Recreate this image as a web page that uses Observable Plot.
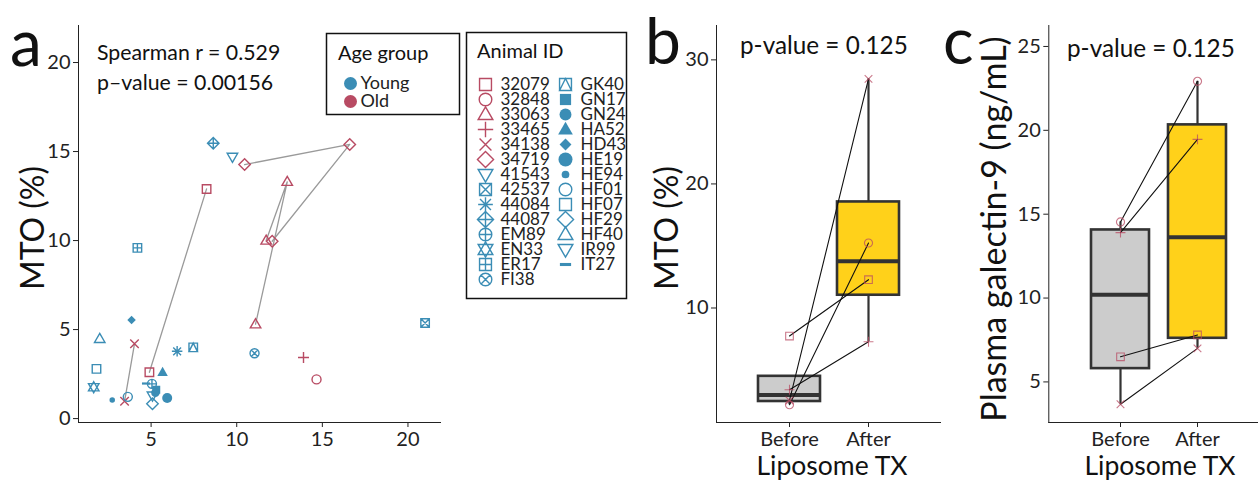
<!DOCTYPE html>
<html><head><meta charset="utf-8">
<script src="https://cdn.jsdelivr.net/npm/d3@7"></script>
<script src="https://cdn.jsdelivr.net/npm/@observablehq/plot@0.6"></script>
<style>
html,body{margin:0;padding:0;background:#fff;overflow:hidden;}
#root{position:relative;width:1258px;height:483px;overflow:hidden;font-family:Lato,sans-serif;background:#fff;}
#root > svg{position:absolute;overflow:visible;}
</style></head><body><div id="root"></div>
<script>
// ---------------- DATA ----------------
const animalIds = ["32079","32848","33063","33465","34138","34719","41543","42537","44084","44087","EM89","EN33","ER17","FI38",
                   "GK40","GN17","GN24","HA52","HD43","HE19","HE94","HF01","HF07","HF29","HF40","IR99","IT27"];
const animalShapes = ["square","circle","triangle","plus","cross","diamond","triangleDown","squareCross","asterisk","diamondPlus","circlePlus","star","squarePlus","circleCross",
                      "squareTriangle","squareFilled","circleFilled","triangleFilled","diamondFilled","circleFilledLarge","circleFilledSmall","circle","square","diamond","triangle","triangleDown","dash"];
const oldAnimals = ["32079","32848","33063","33465","34138","34719"];
const ageGroups = ["Young","Old"];

// panel a: scatter (in path order per animal)
const scatterId = ["32079","32079","32848","33063","33063","33063","33465","34138","34138","34719","34719","34719",
                   "41543","42537","44084","44087","EM89","EN33","ER17","FI38","GK40","GN17","GN24","HA52","HD43","HE19","HE94","HF01","HF07","HF29","HF40","IR99","IT27"];
const scatterX = [4.9,8.24,14.66,11.1,12.95,11.72,13.9,3.45,4.03,10.46,16.6,12.07,
                  9.75,21.0,6.52,8.63,5.05,1.65,4.2,11.04,7.46,5.3,5.25,5.67,3.86,5.94,2.73,3.64,1.81,5.08,2.0,5.08,4.7];
const scatterY = [2.6,12.9,2.2,5.3,13.3,10.0,3.43,0.97,4.2,14.27,15.4,9.96,
                  14.7,5.37,3.78,15.47,1.95,1.76,9.59,3.67,4.0,1.62,1.45,2.6,5.54,1.16,1.05,1.22,2.79,0.83,4.48,1.29,1.97];
const aXTicks = [5,10,15,20];
const aYTicks = [0,5,10,15,20];

// panels b, c: liposome treatment
const phases = ["Before","After"];
const txAnimals = ["32079","32848","33465","34138"];
const mtoBefore = [7.74,2.2,3.41,2.55];
const mtoAfter  = [12.28,15.24,7.28,28.47];
const galBefore = [6.5,14.54,13.9,3.67];
const galAfter  = [7.8,22.92,19.46,7.0];
const bYTicks = [10,20,30];
const cYTicks = [5,10,15,20,25];

// ---------------- STYLE ----------------
const BLUE = "#3b8db5", RED = "#b84b63";
const FONT = "Lato, sans-serif";
const boxFill = {Before: "#cccccc", After: "#ffd11a"};

// ---------------- SYMBOLS ----------------
const poly = (c, p) => { c.moveTo(p[0][0], p[0][1]); for (let i = 1; i < p.length; i++) c.lineTo(p[i][0], p[i][1]); c.closePath(); };
const circ = (c, r) => { c.moveTo(r, 0); c.arc(0, 0, r, 0, 2 * Math.PI); c.closePath(); };
const seg = (c, a, b, d, e) => { c.moveTo(a, b); c.lineTo(d, e); };
const sq = (c, h) => poly(c, [[-h,-h],[h,-h],[h,h],[-h,h]]);
const triU = (c, s) => poly(c, [[0,-1.1*s],[1.05*s,0.72*s],[-1.05*s,0.72*s]]);
const triD = (c, s) => poly(c, [[0,1.1*s],[1.05*s,-0.72*s],[-1.05*s,-0.72*s]]);
const dia = (c, h) => poly(c, [[0,-h],[h,0],[0,h],[-h,0]]);
const plus = (c, h) => { seg(c,-h,0,h,0); seg(c,0,-h,0,h); };
const crs = (c, h) => { seg(c,-h,-h,h,h); seg(c,-h,h,h,-h); };
const shapeFns = {
  square: (c,s) => sq(c,.85*s),
  circle: (c,s) => circ(c,.9*s),
  triangle: triU,
  plus: (c,s) => plus(c,1.1*s),
  cross: (c,s) => crs(c,.85*s),
  diamond: (c,s) => dia(c,1.15*s),
  triangleDown: triD,
  squareCross: (c,s) => { sq(c,.85*s); crs(c,.85*s); },
  asterisk: (c,s) => { plus(c,1.05*s); crs(c,.78*s); },
  diamondPlus: (c,s) => { dia(c,1.15*s); plus(c,1.15*s); },
  circlePlus: (c,s) => { circ(c,.9*s); plus(c,.9*s); },
  star: (c,s) => { triU(c,s); triD(c,s); },
  squarePlus: (c,s) => { sq(c,.85*s); plus(c,.85*s); },
  circleCross: (c,s) => { circ(c,.9*s); crs(c,.636*s); },
  squareTriangle: (c,s) => { sq(c,.85*s); poly(c, [[0,-.85*s],[.85*s,.85*s],[-.85*s,.85*s]]); },
  squareFilled: (c,s) => sq(c,.8*s),
  circleFilled: (c,s) => circ(c,.85*s),
  triangleFilled: triU,
  diamondFilled: (c,s) => dia(c,.85*s),
  circleFilledLarge: (c,s) => circ(c,1.0*s),
  circleFilledSmall: (c,s) => circ(c,.55*s),
  dash: (c,s) => poly(c, [[-.8*s,-.22*s],[.8*s,-.22*s],[.8*s,.22*s],[-.8*s,.22*s]])
};
const filledShapes = new Set(["squareFilled","circleFilled","triangleFilled","diamondFilled","circleFilledLarge","circleFilledSmall","dash"]);
const makeSym = fn => ({draw(ctx, size) { fn(ctx, Math.sqrt(size / Math.PI)); }});
const shapeOf = Object.fromEntries(animalIds.map((id, i) => [id, animalShapes[i]]));
const symbolScale = {domain: animalIds, range: animalIds.map(id => makeSym(shapeFns[shapeOf[id]]))};
const colorScale = {domain: ageGroups, range: [BLUE, RED]};
const ageOf = id => oldAnimals.includes(id) ? "Old" : "Young";
const isFilled = id => filledShapes.has(shapeOf[id]);

const root = document.getElementById("root");
function place(svg, left, top) { svg.style.left = left + "px"; svg.style.top = top + "px"; root.appendChild(svg); }
const baseStyle = {fontFamily: FONT, fontSize: "19px", color: "#222", background: "transparent", overflow: "visible"};

// ---------------- PANEL A ----------------
const scat = scatterId.map((id, i) => ({id, x: scatterX[i], y: scatterY[i], group: ageOf(id), filled: isFilled(id)}));
const counts = d3.rollup(scat, v => v.length, d => d.id);
const pa = Plot.plot({
  width: 460, height: 483, marginLeft: 78, marginTop: 25, marginRight: 20, marginBottom: 61,
  x: {domain: [0.76, 21.9], ticks: aXTicks, tickSize: 5, tickPadding: 4, line: true, label: null},
  y: {domain: [-0.22, 22.08], ticks: aYTicks, tickSize: 5, tickPadding: 3, line: true, label: null},
  symbol: symbolScale, color: colorScale,
  style: {...baseStyle, fontSize: "20px"},
  marks: [
    Plot.line(scat.filter(d => counts.get(d.id) > 1), {x: "x", y: "y", z: "id", stroke: "#9a9a9a", strokeWidth: 1.3}),
    Plot.dot(scat.filter(d => !d.filled), {x: "x", y: "y", symbol: "id", stroke: "group", fill: "none", r: 5, strokeWidth: 1.4}),
    Plot.dot(scat.filter(d => d.filled), {x: "x", y: "y", symbol: "id", fill: "group", stroke: "none", r: 5})
  ]
});
place(pa, 0, 0);

// ---------------- LEGENDS ----------------
const ageLeg = Plot.plot({
  width: 135, height: 83, margin: 1,
  x: {axis: null, domain: [0, 1]},
  y: {type: "point", domain: ageGroups, range: [50.3, 69], padding: 0, axis: null},
  color: colorScale,
  style: {...baseStyle, fontSize: "17px"},
  marks: [
    Plot.frame({stroke: "#111", strokeWidth: 1.5}),
    Plot.dot(ageGroups, {y: d => d, fill: d => d, r: 6.5, frameAnchor: "left", dx: 24}),
    Plot.text(ageGroups, {y: d => d, text: d => d, frameAnchor: "left", dx: 34, textAnchor: "start", fontSize: 18, fill: "#222"})
  ]
});
place(ageLeg, 325, 32);

const legRows = animalIds.map((id, i) => ({id, col: i < 14 ? 0 : 1, row: i < 14 ? i : i - 14, group: ageOf(id), filled: isFilled(id)}));
const idLeg = Plot.plot({
  width: 162, height: 268, margin: 1,
  x: {type: "point", domain: [0, 1], range: [20, 100], padding: 0, axis: null},
  y: {type: "point", domain: d3.range(14), range: [49, 252.3], padding: 0, axis: null},
  symbol: symbolScale, color: colorScale,
  style: {...baseStyle, fontSize: "17px"},
  marks: [
    Plot.frame({stroke: "#111", strokeWidth: 1.5}),
    Plot.dot(legRows.filter(d => !d.filled), {x: "col", y: "row", symbol: "id", stroke: "group", fill: "none", r: 7, strokeWidth: 1.4}),
    Plot.dot(legRows.filter(d => d.filled), {x: "col", y: "row", symbol: "id", fill: "group", stroke: "none", r: 7}),
    Plot.text(legRows, {x: "col", y: "row", text: "id", dx: 15, textAnchor: "start", fontSize: 17, fill: "#222"})
  ]
});
place(idLeg, 465, 31);

// ---------------- PANELS B, C ----------------
function boxStats(vals) {
  const s = vals.slice().sort(d3.ascending);
  const q1 = d3.quantileSorted(s, .25), med = d3.quantileSorted(s, .5), q3 = d3.quantileSorted(s, .75);
  const iqr = q3 - q1;
  return {q1, med, q3, lo: d3.min(s.filter(v => v >= q1 - 1.5 * iqr)), hi: d3.max(s.filter(v => v <= q3 + 1.5 * iqr))};
}
function boxPanel({before, after, yDomain, yTicks, width, marginLeft, paddingInner, paddingOuter}) {
  const stats = phases.map((p, i) => ({phase: p, ...boxStats(i ? after : before)}));
  const pts = [];
  txAnimals.forEach((id, i) => { pts.push({id, phase: "Before", v: before[i]}); pts.push({id, phase: "After", v: after[i]}); });
  return Plot.plot({
    width, height: 483, marginLeft, marginRight: 0, marginTop: 25, marginBottom: 61,
    x: {type: "band", domain: phases, paddingInner, paddingOuter, line: true, tickSize: 5, tickPadding: 4, label: null},
    y: {domain: yDomain, ticks: yTicks, line: true, tickSize: 5, tickPadding: 3, label: null},
    symbol: symbolScale,
    style: {...baseStyle, fontSize: "20px"},
    marks: [
      Plot.ruleX(stats, {x: "phase", y1: "lo", y2: "q1", stroke: "#333", strokeWidth: 2.2}),
      Plot.ruleX(stats, {x: "phase", y1: "q3", y2: "hi", stroke: "#333", strokeWidth: 2.2}),
      ...phases.map(p => Plot.barY(stats.filter(d => d.phase === p), {x: "phase", y1: "q1", y2: "q3", fill: boxFill[p], stroke: "#333", strokeWidth: 2.6})),
      Plot.tickY(stats, {x: "phase", y: "med", stroke: "#333", strokeWidth: 4}),
      Plot.line(pts, {x: "phase", y: "v", z: "id", stroke: "#111", strokeWidth: 1.1}),
      Plot.dot(pts, {x: "phase", y: "v", symbol: "id", stroke: RED, strokeOpacity: 0.75, fill: "none", r: 4.5, strokeWidth: 1.1})
    ]
  });
}
const pb = boxPanel({before: mtoBefore, after: mtoAfter, yDomain: [0.77, 32.77], yTicks: bYTicks, width: 300, marginLeft: 76, paddingInner: 0.22, paddingOuter: 0.525});
place(pb, 640, 0);
const pc = boxPanel({before: galBefore, after: galAfter, yDomain: [2.58, 26.25], yTicks: cYTicks, width: 304, marginLeft: 83.3, paddingInner: 0.253, paddingOuter: 0.558});
place(pc, 965, 0);

// ---------------- TEXT OVERLAY ----------------
const labels = [
  {t: "a", x: 10, y: 66, size: 64},
  {t: "b", x: 645, y: 64, size: 64},
  {t: "c", x: 943, y: 64, size: 64},
  {t: "Spearman r = 0.529", x: 97, y: 60, size: 21.3},
  {t: "p\u2013value = 0.00156", x: 97, y: 90, size: 21.3},
  {t: "Age group", x: 338, y: 60, size: 20},
  {t: "Animal ID", x: 477, y: 58, size: 20},
  {t: "p-value = 0.125", x: 740, y: 54, size: 24.3},
  {t: "p-value = 0.125", x: 1067, y: 57, size: 24.3},
  {t: "MTO (%)", x: 44, y: 228, size: 32, rot: true},
  {t: "MTO (%)", x: 678, y: 228, size: 32, rot: true},
  {t: "Plasma galectin-9 (ng/mL)", x: 1006, y: 229, size: 34, rot: true},
  {t: "Liposome TX", x: 832, y: 475, size: 26.5, mid: true},
  {t: "Liposome TX", x: 1160, y: 475, size: 26.5, mid: true}
];
const ov = d3.create("svg").attr("width", 1258).attr("height", 483).style("left", "0px").style("top", "0px").style("pointer-events", "none");
ov.selectAll("text").data(labels).join("text")
  .attr("transform", d => `translate(${d.x},${d.y})` + (d.rot ? " rotate(-90)" : ""))
  .attr("text-anchor", d => (d.rot || d.mid) ? "middle" : "start")
  .attr("font-family", FONT).attr("font-size", d => d.size).attr("fill", "#111")
  .text(d => d.t);
root.appendChild(ov.node());
</script></body></html>
